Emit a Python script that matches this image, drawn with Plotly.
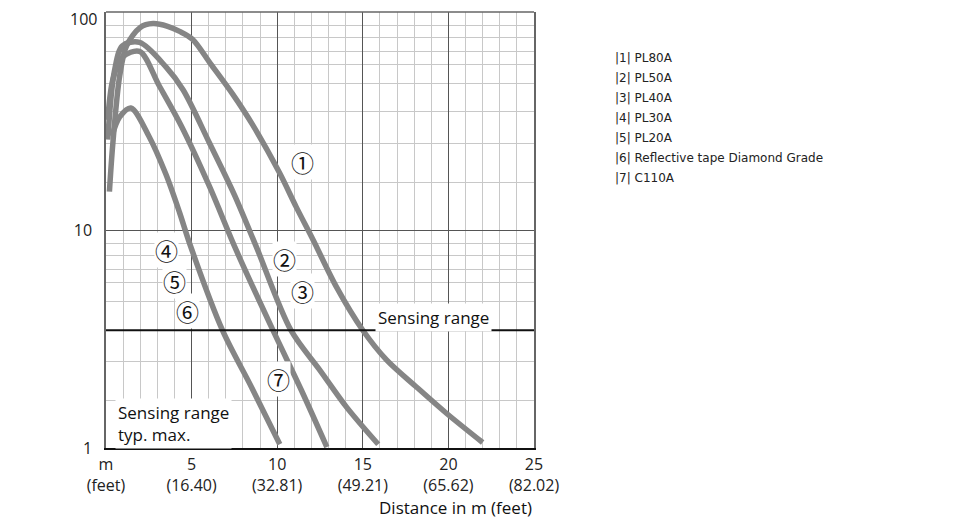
import math
import plotly.graph_objects as go

# ------------------------
# Curves (distance in m, relative excess gain)
# ------------------------
x_pl80a = [0.2, 0.4, 0.8, 1.2, 2.0, 2.75, 3.6, 4.3, 5.05, 6.1, 7.4, 8.55, 10.15, 11.1,
           12.1, 13.45, 15.0, 16.4, 18.15, 19.9, 22.0]
y_pl80a = [15, 25, 51, 70, 85, 88.5, 86, 81.5, 75, 58, 42, 30.5, 18.2, 12.8,
           9.0, 5.5, 3.47, 2.53, 1.9, 1.44, 1.06]

x_pl50a = [0.1, 0.5, 0.96, 1.96, 3.5, 4.5, 6.05, 7.5, 8.8, 10.8, 12.5, 14.05, 15.9]
y_pl50a = [26, 54, 70, 72.5, 56, 44, 25, 14.5, 8.3, 3.47, 2.27, 1.54, 1.04]

x_c110a = [0.1, 0.4, 0.95, 1.96, 3.1, 4.4, 6.05, 7.6, 9.75, 11.4, 12.9]
y_c110a = [32, 49, 62, 66, 46, 30, 15.8, 8.1, 3.47, 1.85, 1.01]

x_pl30a = [0.35, 0.8, 1.45, 2.5, 3.5, 4.3, 4.9, 6.8, 8.5, 10.15]
y_pl30a = [27, 33, 36.3, 27, 18, 12, 8.6, 3.47, 1.9, 1.04]

sensing_level = 3.47

curve_names = ["PL80A", "PL50A / PL40A", "C110A",
               "PL30A / PL20A / Reflective tape Diamond Grade"]

# circled labels: text, x (m), y (value)
label_text = ["①", "②", "③", "④", "⑤", "⑥", "⑦"]
label_x = [11.5, 10.45, 11.5, 3.55, 4.0, 4.75, 10.05]
label_y = [20.5, 7.4, 5.25, 8.1, 5.85, 4.25, 2.07]

x_ticks = [0, 5, 10, 15, 20, 25]
x_ticktext = ["m<br>(feet)", "5<br>(16.40)", "10<br>(32.81)", "15<br>(49.21)",
              "20<br>(65.62)", "25<br>(82.02)"]
y_ticks = [1, 10, 100]
y_ticktext = ["1", "10", ""]   # "100" sits on the top edge, drawn as a note below
y_top_label = "100"
y_minor_grid = [1.66, 2.5, 3.47, 4.7, 5.75, 6.6, 7.6, 8.7,
                16.6, 25, 35, 47, 57.5, 66, 76, 87]

legend_lines = ["|1| PL80A", "|2| PL50A", "|3| PL40A", "|4| PL30A", "|5| PL20A",
                "|6| Reflective tape Diamond Grade", "|7| C110A"]

FONT = "Open Sans"
CURVE = "#858585"

fig = go.Figure()

for xs, ys, name in zip([x_pl80a, x_pl50a, x_c110a, x_pl30a],
                        [y_pl80a, y_pl50a, y_c110a, y_pl30a], curve_names):
    fig.add_trace(go.Scatter(
        x=xs, y=ys, mode="lines", name=name,
        line=dict(color=CURVE, width=5.5, shape="spline", smoothing=0.9),
    ))

# sensing range line
fig.add_trace(go.Scatter(
    x=[0, 25], y=[sensing_level, sensing_level], mode="lines",
    line=dict(color="#111111", width=2), hoverinfo="skip",
))

annotations = []
for t, lx, ly in zip(label_text, label_x, label_y):
    annotations.append(dict(
        x=lx, y=math.log10(ly), xref="x", yref="y", text=t, showarrow=False,
        font=dict(family="Noto Sans CJK JP", size=23, color="#111"),
        bgcolor="white", borderpad=0,
    ))

annotations.append(dict(
    x=15.7, y=math.log10(3.98), xref="x", yref="y", text="Sensing range",
    showarrow=False, xanchor="left", font=dict(family=FONT, size=17, color="#111"),
    bgcolor="white", borderpad=2,
))
annotations.append(dict(
    x=0.5, y=math.log10(1.3), xref="x", yref="y",
    text="Sensing range<br>typ. max.", align="left",
    showarrow=False, xanchor="left", font=dict(family=FONT, size=17, color="#111"),
    bgcolor="white", borderpad=2,
))
annotations.append(dict(
    x=1.0, y=-0.137, xref="paper", yref="paper", text="Distance in m (feet)",
    showarrow=False, xanchor="right", yanchor="middle",
    font=dict(family=FONT, size=17, color="#111"),
))
annotations.append(dict(
    x=0, y=1, xref="paper", yref="paper", text=y_top_label,
    showarrow=False, xanchor="right", yanchor="top", xshift=-8, yshift=5,
    font=dict(family=FONT, size=16, color="#222"), borderpad=0,
))

for i, line in enumerate(legend_lines):
    annotations.append(dict(
        x=1.185, y=0.894 - i * 0.0459, xref="paper", yref="paper", text=line,
        showarrow=False, xanchor="left", yanchor="middle",
        font=dict(family="DejaVu Sans", size=12, color="#222"),
    ))

fig.update_layout(
    width=970, height=520,
    margin=dict(l=98, r=444, t=4, b=80),
    paper_bgcolor="white", plot_bgcolor="white",
    showlegend=False,
    annotations=annotations,
    shapes=[dict(type="line", xref="paper", yref="paper", x0=0, x1=1, y0=1, y1=1,
                 line=dict(color="#666", width=1.5))],
    xaxis=dict(
        range=[0, 25], tickvals=x_ticks, ticktext=x_ticktext,
        showgrid=True, gridcolor="#555", gridwidth=1,
        minor=dict(dtick=1, showgrid=True, gridcolor="#c8c8c8", gridwidth=1.3),
        showline=True, linecolor="#111", linewidth=2,
        ticks="outside", ticklen=1, tickcolor="rgba(0,0,0,0)",
        tickfont=dict(family=FONT, size=16, color="#222"),
        ticklabeloverflow="allow",
        zeroline=False, fixedrange=True, automargin=False,
    ),
    yaxis=dict(
        type="log", range=[0, 2], tickvals=y_ticks, ticktext=y_ticktext,
        showgrid=True, gridcolor="#555", gridwidth=1,
        minor=dict(tickmode="array", tickvals=y_minor_grid, showgrid=True,
                   gridcolor="#c8c8c8", gridwidth=1.3),
        showline=True, linecolor="#666", linewidth=1.5, mirror=True,
        ticks="outside", ticklen=9, tickcolor="rgba(0,0,0,0)",
        tickfont=dict(family=FONT, size=16, color="#222"),
        ticklabeloverflow="allow",
        zeroline=False, fixedrange=True, automargin=False,
    ),
)

fig.write_html("out.html")
